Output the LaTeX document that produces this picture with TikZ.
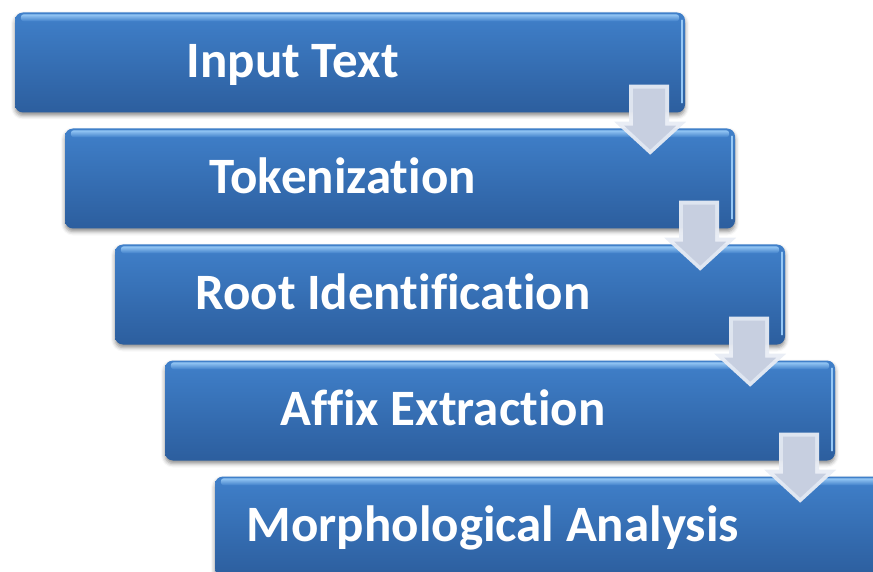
\documentclass[tikz,border=0pt]{standalone}
\usepackage{fontspec}
\setmainfont{Carlito}[Ligatures={NoCommon}]
\usetikzlibrary{calc,shadows.blur}

\definecolor{boxtop}{RGB}{64,128,202}
\definecolor{boxbot}{RGB}{44,94,158}
\definecolor{gloss}{RGB}{150,200,245}
\definecolor{arrowface}{RGB}{198,206,224}
\definecolor{arrowedge}{RGB}{232,236,244}

\begin{document}
\begin{tikzpicture}[x=1pt,y=1pt]
\tikzset{
  stage/.style={rounded corners=8pt, minimum width=670pt, minimum height=100pt,
    inner sep=0pt, top color=boxtop, bottom color=boxbot,
    blur shadow={shadow xshift=0pt, shadow yshift=-3pt, shadow blur radius=4pt, shadow opacity=45}},
  stagetext/.style={text=white, font=\fontsize{51}{61}\selectfont\bfseries},
  flow/.style={fill=arrowedge, opacity=.95},
  flowface/.style={fill=arrowface, opacity=.95}
}
\useasboundingbox (0,0) rectangle (873,-572);
\clip (0,0) rectangle (873,-572);
% Boxes
\foreach \i in {0,...,4} {
  \node[stage] (b\i) at (350+50*\i,-62.5-116*\i) {};
  \shade[top color=gloss, bottom color=boxtop, rounded corners=3pt]
    ($(b\i.north west)+(6,-2)$) rectangle ($(b\i.north east)+(-6,-9)$);
  \draw[gloss, line width=1.5pt, line cap=round]
    ($(b\i.north east)+(-3,-8)$) -- ($(b\i.south east)+(-3,10)$);
}
% Text
\foreach \i/\t in {0/Input Text,1/Tokenization,2/Root Identification,3/Affix Extraction,4/Morphological Analysis}
  \node[stagetext, anchor=base] (t\i) at ($(b\i.west)+(278,-15)$) {\t};
% Arrows between the boxes
\foreach \i in {0,...,3} {
  \fill[flow] ($(b\i.south east)+(-56,28)$) -- ($(b\i.south east)+(-16,28)$)
    -- ($(b\i.south east)+(-16,-9)$) -- ($(b\i.south east)+(1,-9)$)
    -- ($(b\i.south east)+(-35,-42)$) -- ($(b\i.south east)+(-71,-9)$)
    -- ($(b\i.south east)+(-56,-9)$) -- cycle;
  \fill[flowface] ($(b\i.south east)+(-52,24)$) -- ($(b\i.south east)+(-20,24)$)
    -- ($(b\i.south east)+(-20,-13)$) -- ($(b\i.south east)+(-9,-13)$)
    -- ($(b\i.south east)+(-35,-37)$) -- ($(b\i.south east)+(-61,-13)$)
    -- ($(b\i.south east)+(-52,-13)$) -- cycle;
}
\end{tikzpicture}
\end{document}
